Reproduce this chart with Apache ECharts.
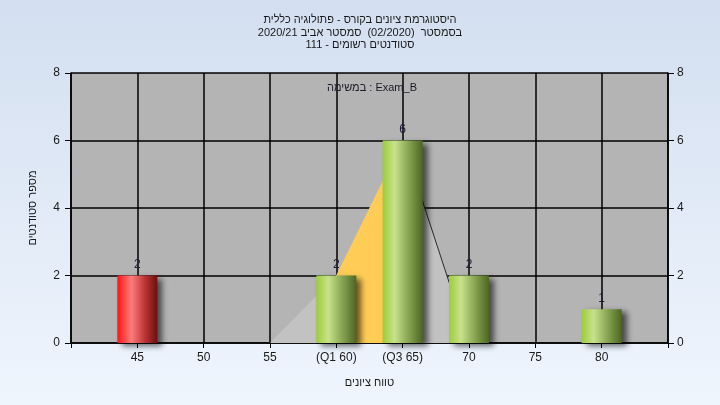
<!DOCTYPE html>
<html>
<head>
<meta charset="utf-8">
<script src="https://cdn.jsdelivr.net/npm/echarts@6/dist/echarts.min.js"></script>
<style>html,body{margin:0;padding:0;}#c{width:720px;height:405px;}</style>
</head>
<body>
<div id="c"></div>
<script>
// ---- data ----
const titleLines = [
  'היסטוגרמת ציונים בקורס - פתולוגיה כללית',
  '\u202Bבסמסטר  (02/2020)  סמסטר אביב 2020/21\u202C',
  '\u202Bסטודנטים רשומים - 111\u202C'
];
const taskLabel = 'במשימה : Exam_B';
const yAxisName = 'מספר סטודנטים';
const xAxisName = 'טווח ציונים';
const grades = [45, 60, 65, 70, 80];
const counts = [2, 2, 6, 2, 1];
const passGrade = 55;
const tickLabels = {60: '(Q1 60)', 65: '(Q3 65)'};
const hiddenTicks = [40, 85];
const curveX = [55, 60, 65, 70];
const curveY = [0, 2, 6, 0];
const q1 = 60, q3 = 65;

const chart = echarts.init(document.getElementById('c'));
const font = 'Liberation Sans';
const redGrad = new echarts.graphic.LinearGradient(0,0,1,0,[
  {offset:0,color:'#ff1414'},{offset:0.35,color:'#ff7c7c'},{offset:0.7,color:'#b83232'},{offset:1,color:'#6e0e0e'}]);
const greenGrad = new echarts.graphic.LinearGradient(0,0,1,0,[
  {offset:0,color:'#9ccc3a'},{offset:0.3,color:'#c8e28c'},{offset:0.65,color:'#87a452'},{offset:1,color:'#4c6622'}]);

const curve = curveX.map((x,i)=>[x,curveY[i]]);
const yellow = curve.filter(p=>p[0]>=q1 && p[0]<=q3);
const tail = curve.filter(p=>p[0]>=q3);

chart.setOption({
  backgroundColor: new echarts.graphic.LinearGradient(0,0,0,1,[{offset:0,color:'#d3dff0'},{offset:1,color:'#eff5fd'}]),
  animation:false,
  title:[
    {text: titleLines.join('\n'), left:'center', top:9,
     textStyle:{fontFamily:font,fontSize:11,fontWeight:'normal',color:'#1a1a1a',lineHeight:12.5}},
    {text: taskLabel, left:367, top:77, textAlign:'center',
     textStyle:{fontFamily:font,fontSize:11,fontWeight:'normal',color:'#1a1a2a'}}
  ],
  grid:{left:71,right:52,top:73,bottom:62,show:true,backgroundColor:'#b4b4b4',borderWidth:0},
  xAxis:{type:'value',min:40,max:85,interval:5,
    name:xAxisName,nameLocation:'middle',nameGap:34,
    nameTextStyle:{fontFamily:font,fontSize:11,color:'#1a1a1a'},
    axisLine:{lineStyle:{color:'#000',width:1.5}},
    axisTick:{show:true,length:5,lineStyle:{color:'#000'}},
    axisLabel:{fontFamily:font,fontSize:12,color:'#1a1a1a',margin:9,
      formatter:v=> hiddenTicks.includes(v)?'':(tickLabels[v]||String(v))},
    splitLine:{show:true,lineStyle:{color:'#000',width:1.5}}
  },
  yAxis:[
    {type:'value',min:0,max:8,interval:2,position:'left',
     name:yAxisName,nameLocation:'middle',nameGap:33,nameRotate:90,
     nameTextStyle:{fontFamily:font,fontSize:11,color:'#1a1a1a'},
     axisLine:{show:true,lineStyle:{color:'#000',width:1.5}},
     axisTick:{show:true,length:6,lineStyle:{color:'#000'}},
     axisLabel:{fontFamily:font,fontSize:12,color:'#1a1a1a',margin:11},
     splitLine:{show:true,lineStyle:{color:'#000',width:1.5}}},
    {type:'value',min:0,max:8,interval:2,position:'right',
     axisLine:{show:true,lineStyle:{color:'#000',width:1.5}},
     axisTick:{show:true,length:6,lineStyle:{color:'#000'}},
     axisLabel:{fontFamily:font,fontSize:12,color:'#1a1a1a',margin:9},
     splitLine:{show:false}}
  ],
  series:[
    {type:'line',data:curve,symbol:'none',lineStyle:{width:0},
     areaStyle:{color:'#c2c2c2',opacity:1},z:1},
    {type:'line',data:yellow,symbol:'none',lineStyle:{width:0},
     areaStyle:{color:'#ffcc55',opacity:1},z:2},
    {type:'line',data:tail,symbol:'none',lineStyle:{width:1,color:'#2a2a2a'},z:3},
    {type:'bar',data:grades.map((g,i)=>[g,counts[i]]),barWidth:40,z:4,
     itemStyle:{color:p=>p.value[0]<passGrade?redGrad:greenGrad,
       shadowColor:'rgba(0,0,0,0.6)',shadowBlur:6,shadowOffsetX:5,shadowOffsetY:3},
     label:{show:true,position:'top',distance:5,fontFamily:font,fontSize:12,color:'#1c1c3c',
       formatter:p=>String(p.value[1])}}
  ]
});
</script>
</body>
</html>
